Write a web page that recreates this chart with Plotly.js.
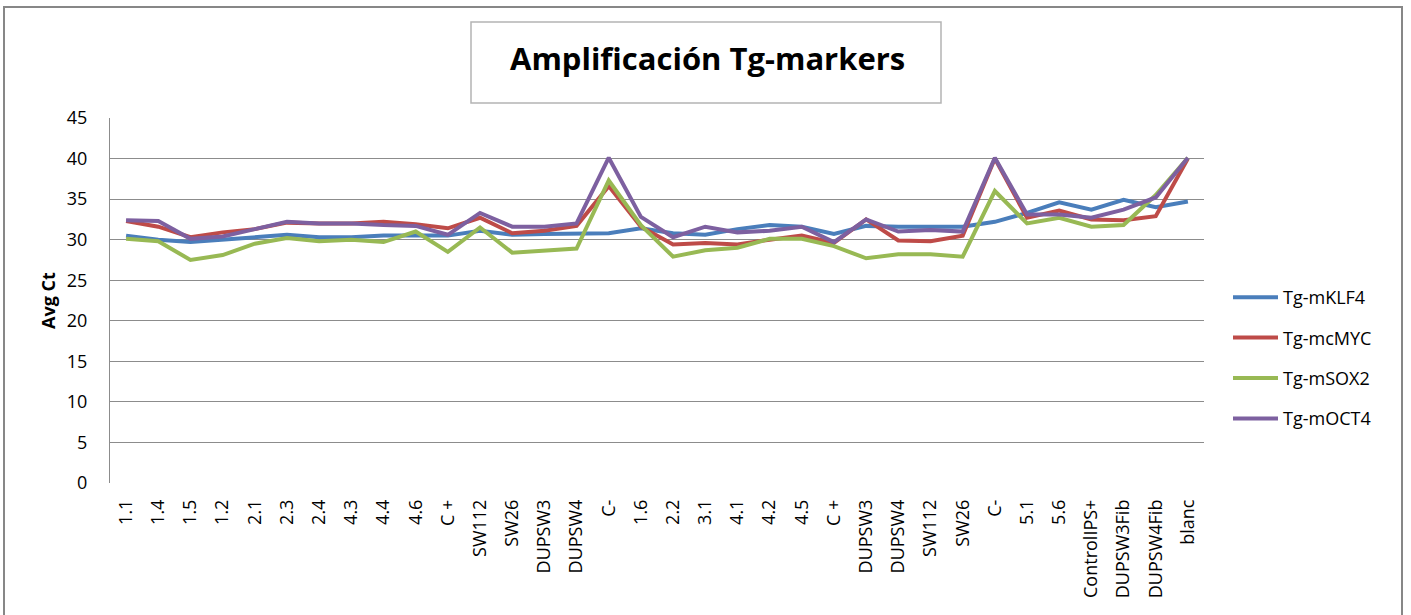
<!DOCTYPE html>
<html>
<head>
<meta charset="utf-8">
<script src="https://cdn.plot.ly/plotly-3.0.1.min.js"></script>
<style>
html,body{margin:0;padding:0;background:#fff;}
#chart{width:1411px;height:615px;}
</style>
</head>
<body>
<div id="chart"></div>
<script>
const categories = ["1.1","1.4","1.5","1.2","2.1","2.3","2.4","4.3","4.4","4.6","C +","SW112","SW26","DUPSW3","DUPSW4","C-","1.6","2.2","3.1","4.1","4.2","4.5","C +","DUPSW3","DUPSW4","SW112","SW26","C-","5.1","5.6","ControlIPS+","DUPSW3Fib","DUPSW4Fib","blanc"];
const klf4  = [30.5,30.0,29.7,30.0,30.2,30.6,30.3,30.3,30.5,30.5,30.5,31.1,30.6,30.7,30.7,30.8,31.4,30.8,30.6,31.3,31.8,31.6,30.7,31.7,31.6,31.6,31.6,32.2,33.3,34.6,33.7,34.9,34.0,34.7];
const cmyc  = [32.3,31.6,30.3,30.9,31.3,32.1,32.0,32.0,32.2,31.9,31.4,32.7,30.8,31.1,31.7,36.6,31.6,29.4,29.6,29.4,30.0,30.5,29.6,32.5,29.9,29.8,30.5,40.0,32.7,33.6,32.5,32.4,32.9,40.0];
const sox2  = [30.1,29.8,27.5,28.1,29.5,30.2,29.8,30.0,29.7,31.0,28.5,31.5,28.4,28.6,28.9,37.3,31.8,27.9,28.7,29.0,30.1,30.1,29.2,27.7,28.2,28.2,27.9,36.0,32.0,32.7,31.6,31.8,35.5,40.1];
const oct4  = [32.4,32.3,30.1,30.4,31.3,32.2,32.0,32.0,31.8,31.7,30.6,33.3,31.6,31.6,32.0,40.1,32.8,30.3,31.6,30.9,31.1,31.6,29.7,32.5,31.0,31.2,31.0,40.1,33.1,33.1,32.7,33.7,35.2,40.1];
const seriesNames = ["Tg-mKLF4","Tg-mcMYC","Tg-mSOX2","Tg-mOCT4"];
const seriesColors = ["#4A7EBB","#BE4B48","#98B954","#7D60A0"];
const yTicks = [0,5,10,15,20,25,30,35,40,45];

const idx = categories.map((c,i)=>i);
const allSeries = [klf4,cmyc,sox2,oct4];
const traces = allSeries.map((s,k)=>({
  type:'scatter', mode:'lines', x: idx, y: s, name: seriesNames[k],
  legendgroup: 'g'+k,
  line:{color: seriesColors[k], width:4}
}));

const W=1411,H=615,L=110,R=207,T=118,B=132;
const pw=W-L-R, ph=H-T-B;
function px(x){return (x-L)/pw;}
function py(y){return (H-B-y)/ph;}

const layout = {
  width:W, height:H,
  margin:{l:L,r:R,t:T,b:B},
  paper_bgcolor:'#fff', plot_bgcolor:'#fff',
  font:{family:'"Open Sans", "Noto Sans", sans-serif', color:'#000', size:18},
  showlegend:true,
  legend:{x:px(1228), y:py(279), xanchor:'left', yanchor:'top', font:{size:18}, tracegroupgap:14, itemwidth:45, bgcolor:'rgba(0,0,0,0)'},
  xaxis:{
    range:[-0.5, categories.length-0.5],
    tickmode:'array', tickvals: idx, ticktext: categories,
    tickangle:-90, showgrid:false, zeroline:false,
    showline:false, ticks:'', tickfont:{size:18}, ticklabelstandoff:12
  },
  yaxis:{
    range:[0,45], tickmode:'array', tickvals:yTicks,
    showgrid:true, gridcolor:'#8C8C8C', gridwidth:1,
    zeroline:false, showline:true, linecolor:'#8C8C8C', linewidth:1,
    ticks:'', ticklen:0, tickfont:{size:18}, ticklabelstandoff:18,
    title:{text:'<b>Avg Ct</b>', font:{size:18}, standoff:6}
  },
  shapes:[
    {type:'rect', xref:'paper', yref:'paper', x0:px(4), x1:px(1402), y0:py(640), y1:py(7), line:{color:'#878787', width:2}, fillcolor:'rgba(0,0,0,0)', layer:'below'},
    {type:'rect', xref:'paper', yref:'paper', x0:px(471), x1:px(941), y0:py(103), y1:py(22), line:{color:'#B4B4B4', width:1.5}, fillcolor:'rgba(0,0,0,0)'}
  ],
  annotations:[
    {xref:'paper', yref:'paper', x:px(707), y:py(58), xanchor:'center', yanchor:'middle', showarrow:false,
     text:'<b>Amplificación Tg-markers</b>', font:{size:31, color:'#000'}}
  ]
};

Plotly.newPlot('chart', traces, layout, {displayModeBar:false, staticPlot:true});
</script>
</body>
</html>
